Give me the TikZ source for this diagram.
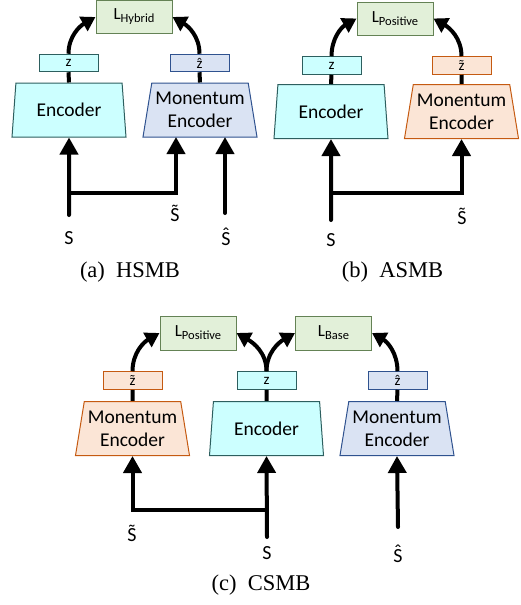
\documentclass[tikz,border=0pt]{standalone}
\usepackage{fontspec}
\setmainfont{Carlito}
\newfontfamily\capfont{Liberation Serif}
\usetikzlibrary{shapes.geometric,arrows.meta}
\definecolor{encfill}{RGB}{204,255,255}
\definecolor{encdraw}{RGB}{45,95,95}
\definecolor{blufill}{RGB}{218,227,243}
\definecolor{bludraw}{RGB}{47,82,143}
\definecolor{orafill}{RGB}{251,229,214}
\definecolor{oradraw}{RGB}{197,90,17}
\definecolor{grnfill}{RGB}{226,240,217}
\definecolor{grndraw}{RGB}{100,130,85}
\newcommand\Lsub[1]{L\raisebox{-3pt}{\fontsize{12.5}{12.5}\selectfont #1}}
\newcommand\tldacc[1]{\accent"02DC #1}
\newcommand\hatacc[1]{\accent"02C6 #1}
\begin{document}
\begin{tikzpicture}[x=1pt,y=1pt,
 trap/.style={trapezium, trapezium angle=77.5, trapezium stretches body, minimum width=114pt, minimum height=54pt, inner xsep=0pt, inner ysep=2pt, line width=1pt, align=center, font=\fontsize{19.5}{23}\selectfont},
 encst/.style={trap, fill=encfill, draw=encdraw},
 bluest/.style={trap, fill=blufill, draw=bludraw},
 orast/.style={trap, fill=orafill, draw=oradraw},
 zbox/.style={rectangle, minimum width=59pt, minimum height=17.5pt, inner sep=0pt, line width=1pt, font=\fontsize{15}{15}\selectfont},
 zenc/.style={zbox, fill=encfill, draw=encdraw},
 zblu/.style={zbox, fill=blufill, draw=bludraw},
 zora/.style={zbox, fill=orafill, draw=oradraw},
 lbox/.style={rectangle, minimum width=76pt, minimum height=33pt, inner sep=0pt, fill=grnfill, draw=grndraw, line width=1pt, font=\fontsize{17}{17}\selectfont},
 link/.style={line width=4pt},
 flow/.style={line width=4pt, -{Triangle[width=18pt,length=17pt]}},
 startround/.style={line cap=round},
 curv/.style={line width=4pt, -{Triangle[width=16pt,length=14pt]}},
 lab/.style={font=\fontsize{20}{20}\selectfont, anchor=base, inner sep=0pt},
 captext/.style={font=\capfont\fontsize{22.5}{22.5}\selectfont, inner sep=0pt}
]
\useasboundingbox (0,0) rectangle (521,-605);
% ---------- (a) ----------
\node[lbox] (La) at (134,-17) {\Lsub{Hybrid}};
\node[zenc] (za) at (68.5,-63) {z};
\node[encst] (enca) at (69,-110) {Encoder};
\node[zblu] (zha) at (199.5,-63) {\hatacc{z}};
\node[bluest] (menca) at (200,-110) {Monentum\\Encoder};
\draw[link] (za.south) -- (enca.north);
\draw[link] (zha.south) -- (menca.north);
\draw[curv] (za.north) to[out=90,in=210] (La.west);
\draw[curv] (zha.north) to[out=90,in=-30] (La.east);
\coordinate (sa) at (69,-215);
\coordinate (ja) at (69,-193);
\coordinate (mina) at (176,-137);
\coordinate (sha) at (225,-213);
\coordinate (mhina) at (225,-137);
\draw[flow,startround] (sa) -- (enca.south);
\draw[flow] (ja) -| (mina);
\draw[flow,startround] (sha) -- (mhina);
\node[lab] (Sa) at (69,-244.5) {S};
\node[lab] (Sta) at (175,-221.5) {\tldacc{S}};
\node[lab] (Sha) at (226,-245) {\hatacc{S}};
\node[captext] (capa) at (130,-272) {(a)\hspace{0.5em}HSMB};
% ---------- (b) ----------
\node[lbox] (Lb) at (395,-18.5) {\Lsub{Positive}};
\node[zenc] (zb) at (331.5,-65.5) {z};
\node[encst] (encb) at (331,-111.5) {Encoder};
\node[zora] (ztb) at (461.5,-65.5) {\tldacc{z}};
\node[orast] (mencb) at (461.5,-111.5) {Monentum\\Encoder};
\draw[link] (zb.south) -- (encb.north);
\draw[link] (ztb.south) -- (mencb.north);
\draw[curv] (zb.north) to[out=90,in=210] (Lb.west);
\draw[curv] (ztb.north) to[out=90,in=-30] (Lb.east);
\coordinate (sb) at (331,-220);
\coordinate (jb) at (331,-193);
\draw[flow,startround] (sb) -- (encb.south);
\draw[flow] (jb) -| (mencb.south);
\node[lab] (Sb) at (331,-246.5) {S};
\node[lab] (Stb) at (462,-224.5) {\tldacc{S}};
\node[captext] (capb) at (392.5,-272) {(b)\hspace{0.5em}ASMB};
% ---------- (c) ----------
\node[lbox, minimum height=34pt] (Lp) at (198,-333) {\Lsub{Positive}};
\node[lbox, minimum height=34pt] (Lbs) at (333.5,-333) {\Lsub{Base}};
\node[zora] (ztc) at (132.5,-380.5) {\tldacc{z}};
\node[zenc] (zc) at (266.5,-380.5) {z};
\node[zblu] (zhc) at (397.5,-380.5) {\hatacc{z}};
\node[orast] (mencl) at (132.5,-428.5) {Monentum\\Encoder};
\node[encst] (encc) at (266.5,-428.5) {Encoder};
\node[bluest] (mencr) at (397,-428.5) {Monentum\\Encoder};
\draw[link] (ztc.south) -- (mencl.north);
\draw[link] (zc.south) -- (encc.north);
\draw[link] (zhc.south) -- (mencr.north);
\draw[curv] (ztc.north) to[out=90,in=210] (Lp.west);
\draw[curv] (zc.north) to[out=90,in=-30] (Lp.east);
\draw[curv] (zc.north) to[out=90,in=210] (Lbs.west);
\draw[curv] (zhc.north) to[out=90,in=-30] (Lbs.east);
\coordinate (sc) at (267,-537);
\coordinate (jc) at (267,-510);
\coordinate (shc) at (398,-527);
\draw[flow,startround] (sc) -- (encc.south);
\draw[flow] (jc) -| (mencl.south);
\draw[flow,startround] (shc) -- (mencr.south);
\node[lab] (Stc) at (132,-541.5) {\tldacc{S}};
\node[lab] (Sc) at (267,-559.5) {S};
\node[lab] (Shc) at (398,-562) {\hatacc{S}};
\node[captext] (capc) at (261,-585) {(c)\hspace{0.5em}CSMB};
\end{tikzpicture}
\end{document}
